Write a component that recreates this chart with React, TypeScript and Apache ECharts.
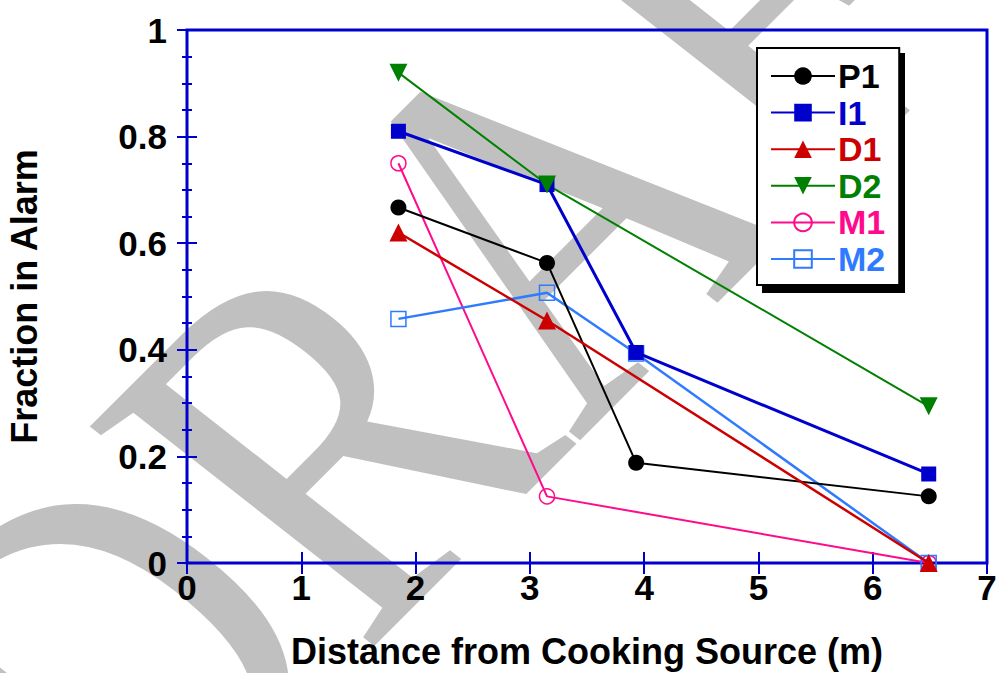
import { useEffect, useRef } from "react";
import * as echarts from "echarts";

const seriesNames = ["P1", "I1", "D1", "D2", "M1", "M2"];

const p1X = [1.85, 3.15, 3.93, 6.49];
const p1Y = [0.667, 0.563, 0.188, 0.125];
const i1X = [1.85, 3.15, 3.93, 6.49];
const i1Y = [0.81, 0.71, 0.395, 0.167];
const d1X = [1.85, 3.15, 6.49];
const d1Y = [0.62, 0.455, 0];
const d2X = [1.85, 3.15, 6.49];
const d2Y = [0.92, 0.71, 0.294];
const m1X = [1.85, 3.15, 6.49];
const m1Y = [0.75, 0.125, 0];
const m2X = [1.85, 3.15, 3.93, 6.49];
const m2Y = [0.458, 0.507, 0.393, 0];

const BLUE = "#0000CC";
const FONT = "'Liberation Sans', Arial, sans-serif";
const COLORS = ["#000000", BLUE, "#CC0000", "#008000", "#FF0A8C", "#2F7BFF"];

function pairs(xs: number[], ys: number[]) {
  return xs.map((x, i) => [x, ys[i]]);
}

function makeSeries(
  name: string,
  xs: number[],
  ys: number[],
  color: string,
  symbol: string,
  size: number,
  width: number,
  z: number,
  hollow = false,
  extra: any = {}
) {
  return {
    name,
    type: "line",
    data: pairs(xs, ys),
    symbol,
    symbolSize: size,
    clip: false,
    z,
    lineStyle: { color, width },
    itemStyle: hollow
      ? { color: "rgba(255,255,255,0)", borderColor: color, borderWidth: 1.5 }
      : { color, borderColor: color, borderWidth: 0 },
    ...extra,
  };
}

// watermark: the source image is stretched sideways, so the rotated text sits in a scaled group
const WM_SIZE = 510;
const WM_ANGLE = (48.5 * Math.PI) / 180;

export default function App() {
  const chartRef = useRef<HTMLDivElement>(null);
  useEffect(() => {
    document.body.style.margin = "0";
    const chart = echarts.init(chartRef.current, null, { renderer: "svg" });
    const option = {
      animation: false,
      backgroundColor: "#fff",
      grid: {
        left: 187,
        right: 11,
        top: 30,
        bottom: 110,
        outerBoundsMode: "none",
        show: true,
        borderColor: BLUE,
        borderWidth: 3,
        backgroundColor: "transparent",
      },
      legend: {
        orient: "vertical",
        left: 757,
        top: 48,
        z: 4,
        padding: [11, 14, 9, 13],
        itemWidth: 64,
        itemHeight: 22,
        itemGap: 2.6,
        backgroundColor: "#fff",
        borderColor: "#000",
        borderWidth: 2,
        data: seriesNames.map((n, i) => ({
          name: n,
          textStyle: { color: COLORS[i] },
        })),
        textStyle: {
          fontFamily: FONT,
          fontWeight: "bold",
          fontSize: 34,
          padding: [0, 0, 0, -2],
        },
      },
      graphic: [
        {
          type: "group",
          x: -14,
          y: 775,
          scaleX: 1.13,
          z: -5,
          silent: true,
          children: [
            {
              type: "text",
              rotation: WM_ANGLE,
              scaleX: 0.84,
              z: -5,
              style: {
                text: "DRAFT",
                fontSize: WM_SIZE,
                fontFamily: "'Liberation Serif', 'Times New Roman', serif",
                fill: "#C0C0C0",
                align: "left",
                verticalAlign: "middle",
              },
            },
          ],
        },
        {
          type: "rect",
          z: 3,
          shape: { x: 762, y: 53, width: 143, height: 240 },
          style: { fill: "#000" },
        },
      ],
      xAxis: [
        {
          type: "value",
          min: 0,
          max: 7,
          interval: 1,
          name: "Distance from Cooking Source (m)",
          nameLocation: "middle",
          nameGap: 70,
          nameTextStyle: { fontFamily: FONT, fontWeight: "bold", fontSize: 36, color: "#000" },
          axisLine: { show: false },
          axisTick: { show: true, inside: true, length: 11, lineStyle: { color: BLUE, width: 2 } },
          axisLabel: { fontFamily: FONT, fontWeight: "bold", fontSize: 35, color: "#000", margin: 7 },
          splitLine: { show: false },
        },
        {
          type: "value",
          position: "top",
          min: 0,
          max: 7,
          interval: 1,
          axisLine: { show: false },
          axisTick: { show: true, inside: true, length: 11, lineStyle: { color: BLUE, width: 2 } },
          axisLabel: { show: false },
          splitLine: { show: false },
        },
      ],
      yAxis: [
        {
          type: "value",
          min: 0,
          max: 1,
          interval: 0.2,
          name: "Fraction in Alarm",
          nameLocation: "middle",
          nameRotate: 90,
          nameGap: 145,
          nameTextStyle: { fontFamily: FONT, fontWeight: "bold", fontSize: 36, color: "#000" },
          axisLine: { show: false },
          axisTick: { show: true, inside: true, length: 10, lineStyle: { color: BLUE, width: 2 } },
          minorTick: { show: true, splitNumber: 4, length: 5, lineStyle: { color: BLUE, width: 2 } },
          axisLabel: { fontFamily: FONT, fontWeight: "bold", fontSize: 35, color: "#000", margin: 20 },
          splitLine: { show: false },
        },
        {
          type: "value",
          position: "right",
          min: 0,
          max: 1,
          interval: 0.2,
          axisLine: { show: false },
          axisTick: { show: true, inside: true, length: 10, lineStyle: { color: BLUE, width: 2 } },
          minorTick: { show: true, splitNumber: 4, length: 5, lineStyle: { color: BLUE, width: 2 } },
          axisLabel: { show: false },
          splitLine: { show: false },
        },
      ],
      series: [
        makeSeries("M1", m1X, m1Y, COLORS[4], "circle", 15, 2, 2, true),
        makeSeries("M2", m2X, m2Y, COLORS[5], "rect", 15, 2.5, 2, true),
        makeSeries("P1", p1X, p1Y, COLORS[0], "circle", 16, 2, 3),
        makeSeries("I1", i1X, i1Y, COLORS[1], "rect", 15, 3, 3),
        makeSeries("D1", d1X, d1Y, COLORS[2], "triangle", 18, 2.5, 3),
        makeSeries("D2", d2X, d2Y, COLORS[3], "triangle", 18, 2, 3, false, { symbolRotate: 180 }),
      ],
    };
    chart.setOption(option);
    return () => {
      chart.dispose();
    };
  }, []);
  return <div ref={chartRef} style={{ width: "998px", height: "673px" }} />;
}
